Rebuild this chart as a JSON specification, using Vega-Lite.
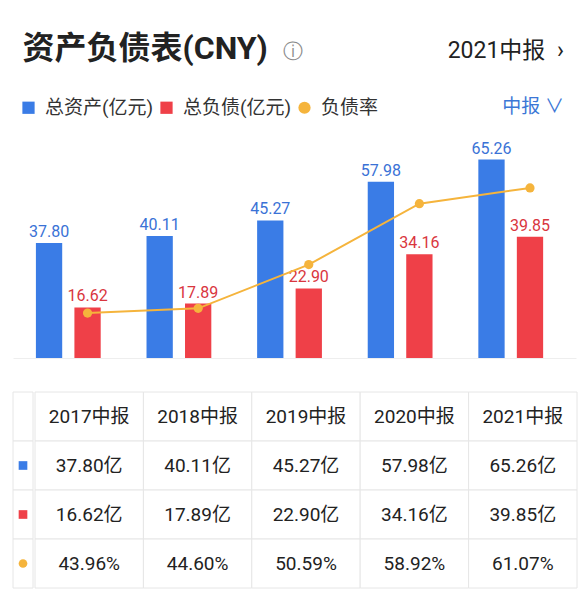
{
  "$schema": "https://vega.github.io/schema/vega-lite/v6.json",
  "padding": {"left": 12, "right": 7, "top": 33, "bottom": 17},
  "title": {
    "text": "资产负债表(CNY)",
    "subtitle": "\u200b\u2003\u2003\u2003\u2003\u2003\u2003\u2003\u2003\u2003\u2003\u2003\u2003\u2003\u24d8",
    "anchor": "start",
    "dx": 10,
    "offset": -26,
    "font": "Roboto, 'Noto Sans CJK SC', sans-serif",
    "fontSize": 32,
    "fontWeight": "bold",
    "color": "#222222",
    "subtitleFont": "DejaVu Sans",
    "subtitleFontSize": 20,
    "subtitleColor": "#8a8a8a",
    "subtitlePadding": -24
  },
  "datasets": {
    "bars": [
      {"period": "2017中报", "series": "总资产(亿元)", "value": 37.80},
      {"period": "2017中报", "series": "总负债(亿元)", "value": 16.62},
      {"period": "2018中报", "series": "总资产(亿元)", "value": 40.11},
      {"period": "2018中报", "series": "总负债(亿元)", "value": 17.89},
      {"period": "2019中报", "series": "总资产(亿元)", "value": 45.27},
      {"period": "2019中报", "series": "总负债(亿元)", "value": 22.90},
      {"period": "2020中报", "series": "总资产(亿元)", "value": 57.98},
      {"period": "2020中报", "series": "总负债(亿元)", "value": 34.16},
      {"period": "2021中报", "series": "总资产(亿元)", "value": 65.26},
      {"period": "2021中报", "series": "总负债(亿元)", "value": 39.85}
    ],
    "ratio": [
      {"period": "2017中报", "ratio": 43.96},
      {"period": "2018中报", "ratio": 44.60},
      {"period": "2019中报", "ratio": 50.59},
      {"period": "2020中报", "ratio": 58.92},
      {"period": "2021中报", "ratio": 61.07}
    ],
    "rows": [
      {"row": "header"},
      {"row": "总资产(亿元)"},
      {"row": "总负债(亿元)"},
      {"row": "负债率"}
    ],
    "cells": [
      {"period": "2017中报", "row": "header", "text": "2017中报"},
      {"period": "2018中报", "row": "header", "text": "2018中报"},
      {"period": "2019中报", "row": "header", "text": "2019中报"},
      {"period": "2020中报", "row": "header", "text": "2020中报"},
      {"period": "2021中报", "row": "header", "text": "2021中报"},
      {"period": "2017中报", "row": "总资产(亿元)", "text": "37.80亿"},
      {"period": "2018中报", "row": "总资产(亿元)", "text": "40.11亿"},
      {"period": "2019中报", "row": "总资产(亿元)", "text": "45.27亿"},
      {"period": "2020中报", "row": "总资产(亿元)", "text": "57.98亿"},
      {"period": "2021中报", "row": "总资产(亿元)", "text": "65.26亿"},
      {"period": "2017中报", "row": "总负债(亿元)", "text": "16.62亿"},
      {"period": "2018中报", "row": "总负债(亿元)", "text": "17.89亿"},
      {"period": "2019中报", "row": "总负债(亿元)", "text": "22.90亿"},
      {"period": "2020中报", "row": "总负债(亿元)", "text": "34.16亿"},
      {"period": "2021中报", "row": "总负债(亿元)", "text": "39.85亿"},
      {"period": "2017中报", "row": "负债率", "text": "43.96%"},
      {"period": "2018中报", "row": "负债率", "text": "44.60%"},
      {"period": "2019中报", "row": "负债率", "text": "50.59%"},
      {"period": "2020中报", "row": "负债率", "text": "58.92%"},
      {"period": "2021中报", "row": "负债率", "text": "61.07%"}
    ]
  },
  "vconcat": [
    {
      "width": 563,
      "height": 228,
      "title": {
        "text": "2021中报\u2002\u203a",
        "subtitle": "中报  \u2228",
        "anchor": "end",
        "dx": -12,
        "offset": -19,
        "font": "Roboto, 'Noto Sans CJK SC', sans-serif",
        "fontSize": 23,
        "fontWeight": "normal",
        "color": "#222222",
        "subtitleFont": "Roboto, 'Noto Sans CJK SC', sans-serif",
        "subtitleFontSize": 19,
        "subtitleColor": "#3b77d6",
        "subtitlePadding": 35
      },
      "layer": [
        {
          "data": {"name": "bars"},
          "layer": [
            {
              "mark": {"type": "bar"},
              "encoding": {
                "x": {
                  "field": "period",
                  "type": "nominal",
                  "sort": null,
                  "scale": {"paddingInner": 0, "paddingOuter": 0.045, "align": 0},
                  "axis": {"labels": false, "ticks": false, "title": null, "domainColor": "#eeeeee", "grid": false}
                },
                "xOffset": {
                  "field": "series",
                  "type": "nominal",
                  "scale": {"domain": ["总资产(亿元)", "总负债(亿元)"], "paddingInner": 0.317, "paddingOuter": 0.595}
                },
                "y": {"field": "value", "type": "quantitative", "scale": {"domain": [0, 75], "nice": false}, "axis": null},
                "color": {
                  "field": "series",
                  "type": "nominal",
                  "scale": {
                    "domain": ["总资产(亿元)", "总负债(亿元)", "负债率"],
                    "range": ["#3a7ce6", "#ef4048", "#f5b43c"]
                  },
                  "legend": {
                    "orient": "none",
                    "legendX": 6,
                    "legendY": -32,
                    "direction": "horizontal",
                    "title": null,
                    "symbolType": "square",
                    "symbolSize": 150,
                    "symbolStrokeWidth": 0,
                    "symbolOpacity": 1,
                    "labelFont": "Roboto, 'Noto Sans CJK SC', sans-serif",
                    "labelFontSize": 19,
                    "labelColor": "#333333",
                    "labelOffset": 7,
                    "columnPadding": 3,
                    "encode": {
                      "symbols": {
                        "update": {
                          "shape": {"signal": "datum.value === '负债率' ? 'circle' : 'square'"}
                        }
                      }
                    }
                  }
                }
              }
            },
            {
              "mark": {"type": "text", "baseline": "bottom", "dy": -3, "fontSize": 16, "font": "Roboto, sans-serif"},
              "encoding": {
                "x": {"field": "period", "type": "nominal", "sort": null},
                "xOffset": {"field": "series", "type": "nominal"},
                "y": {"field": "value", "type": "quantitative"},
                "text": {"field": "value", "type": "quantitative", "format": ".2f"},
                "color": {
                  "condition": {"test": "datum.series === '总资产(亿元)'", "value": "#3a72d6"},
                  "value": "#d9363e"
                }
              }
            }
          ]
        },
        {
          "data": {"name": "ratio"},
          "layer": [
            {
              "mark": {"type": "line", "color": "#f5b43c", "strokeWidth": 2},
              "encoding": {
                "x": {"field": "period", "type": "nominal", "sort": null},
                "xOffset": {"datum": "总负债(亿元)"},
                "y": {
                  "field": "ratio",
                  "type": "quantitative",
                  "scale": {"domain": [37.81, 69.0], "zero": false, "nice": false},
                  "axis": null
                }
              }
            },
            {
              "mark": {"type": "circle", "color": "#f5b43c", "size": 85, "opacity": 1},
              "encoding": {
                "x": {"field": "period", "type": "nominal", "sort": null},
                "xOffset": {"datum": "总负债(亿元)"},
                "y": {"field": "ratio", "type": "quantitative"}
              }
            }
          ]
        }
      ],
      "resolve": {"scale": {"y": "independent"}}
    },
    {
      "hconcat": [
        {
          "width": 20,
          "height": 196,
          "data": {"name": "rows"},
          "layer": [
            {
              "mark": {"type": "rect", "fill": "#ffffff", "stroke": "#e6e6e6", "strokeWidth": 1},
              "encoding": {
                "y": {
                  "field": "row",
                  "type": "nominal",
                  "sort": null,
                  "scale": {"paddingInner": 0, "paddingOuter": 0},
                  "axis": null
                }
              }
            },
            {
              "transform": [{"filter": "datum.row !== 'header'"}],
              "mark": {"type": "point", "filled": true, "opacity": 1, "size": 75},
              "encoding": {
                "y": {"field": "row", "type": "nominal", "sort": null},
                "shape": {
                  "field": "row",
                  "type": "nominal",
                  "scale": {"domain": ["总资产(亿元)", "总负债(亿元)", "负债率"], "range": ["square", "square", "circle"]},
                  "legend": null
                },
                "color": {
                  "field": "row",
                  "type": "nominal",
                  "scale": {"domain": ["总资产(亿元)", "总负债(亿元)", "负债率"], "range": ["#3a7ce6", "#ef4048", "#f5b43c"]},
                  "legend": null
                }
              }
            }
          ]
        },
        {
          "width": 542,
          "height": 196,
          "data": {"name": "cells"},
          "layer": [
            {
              "mark": {"type": "rect", "fill": "#ffffff", "stroke": "#e6e6e6", "strokeWidth": 1},
              "encoding": {
                "x": {
                  "field": "period",
                  "type": "nominal",
                  "sort": null,
                  "scale": {"paddingInner": 0, "paddingOuter": 0},
                  "axis": null
                },
                "y": {
                  "field": "row",
                  "type": "nominal",
                  "sort": null,
                  "scale": {"paddingInner": 0, "paddingOuter": 0},
                  "axis": null
                }
              }
            },
            {
              "mark": {"type": "text", "fontSize": 19, "font": "Roboto, 'Noto Sans CJK SC', sans-serif", "color": "#222222"},
              "encoding": {
                "x": {"field": "period", "type": "nominal", "sort": null},
                "y": {"field": "row", "type": "nominal", "sort": null},
                "text": {"field": "text", "type": "nominal"}
              }
            }
          ]
        }
      ],
      "spacing": 0,
      "resolve": {"scale": {"x": "independent", "y": "independent", "color": "independent", "shape": "independent"}}
    }
  ],
  "spacing": 33,
  "resolve": {"scale": {"x": "independent", "y": "independent", "color": "independent", "shape": "independent", "xOffset": "independent"}},
  "config": {"view": {"stroke": null}}
}
